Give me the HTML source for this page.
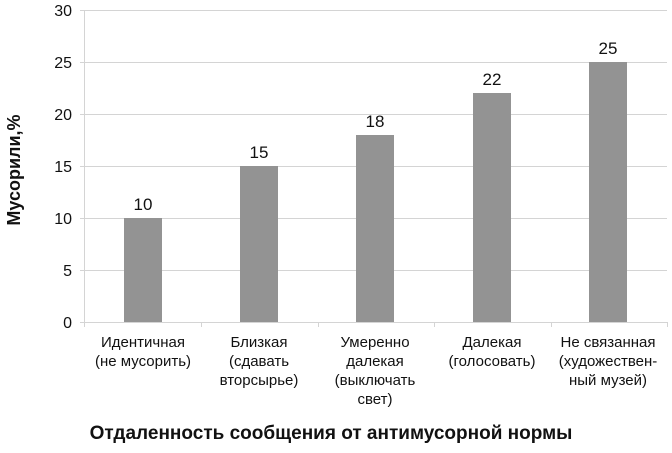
<!DOCTYPE html>
<html><head><meta charset="utf-8"><style>
body{margin:0;background:#fff;}
svg text{font-family:"Liberation Sans","DejaVu Sans",sans-serif;fill:#111;}
</style></head><body>
<svg width="672" height="448" xmlns="http://www.w3.org/2000/svg">
<g stroke="#d4d4d4" stroke-width="1">
<line x1="80" y1="10.5" x2="667" y2="10.5"/>
<line x1="80" y1="62.5" x2="667" y2="62.5"/>
<line x1="80" y1="114.5" x2="667" y2="114.5"/>
<line x1="80" y1="166.5" x2="667" y2="166.5"/>
<line x1="80" y1="218.5" x2="667" y2="218.5"/>
<line x1="80" y1="270.5" x2="667" y2="270.5"/>
<line x1="84.5" y1="10" x2="84.5" y2="327"/>
<line x1="80" y1="322.5" x2="667" y2="322.5"/>
<line x1="201.5" y1="322" x2="201.5" y2="327"/>
<line x1="318.5" y1="322" x2="318.5" y2="327"/>
<line x1="434.5" y1="322" x2="434.5" y2="327"/>
<line x1="551.5" y1="322" x2="551.5" y2="327"/>
<line x1="667.5" y1="322" x2="667.5" y2="327"/>
</g>
<g fill="#939393">
<rect x="124" y="218" width="38" height="104"/>
<rect x="240" y="166" width="38" height="156"/>
<rect x="356" y="135" width="38" height="187"/>
<rect x="473" y="93" width="38" height="229"/>
<rect x="589" y="62" width="38" height="260"/>
</g>
<g font-size="16" text-anchor="end">
<text x="72" y="16">30</text><text x="72" y="68">25</text><text x="72" y="120">20</text>
<text x="72" y="172">15</text><text x="72" y="224">10</text><text x="72" y="276">5</text><text x="72" y="328">0</text>
</g>
<g font-size="17" text-anchor="middle">
<text x="143" y="210">10</text><text x="259" y="158">15</text><text x="375" y="127">18</text>
<text x="492" y="85">22</text><text x="608" y="54">25</text>
</g>
<g font-size="15" text-anchor="middle">
<text x="143" y="347">Идентичная</text><text x="143" y="366">(не мусорить)</text>
<text x="259" y="347">Близкая</text><text x="259" y="366">(сдавать</text><text x="259" y="385">вторсырье)</text>
<text x="375" y="347">Умеренно</text><text x="375" y="366">далекая</text><text x="375" y="385">(выключать</text><text x="375" y="404">свет)</text>
<text x="492" y="347">Далекая</text><text x="492" y="366">(голосовать)</text>
<text x="608" y="347">Не связанная</text><text x="608" y="366">(художествен-</text><text x="608" y="385">ный музей)</text>
</g>
<text x="331" y="439" font-size="19" font-weight="bold" text-anchor="middle">Отдаленность сообщения от антимусорной нормы</text>
<text transform="translate(20,170) rotate(-90)" font-size="18" font-weight="bold" text-anchor="middle">Мусорили,%</text>
</svg>
</body></html>
